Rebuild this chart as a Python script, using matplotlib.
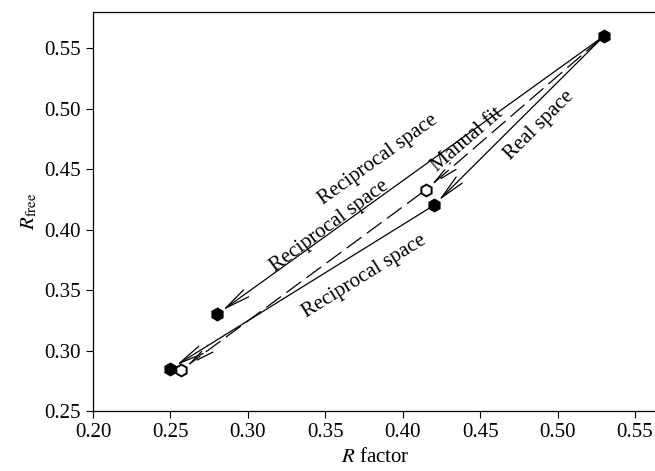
import numpy as np
import matplotlib
matplotlib.use("Agg")
import matplotlib.pyplot as plt

plt.rcParams['font.family'] = ['Liberation Serif', 'DejaVu Serif']
plt.rcParams['mathtext.fontset'] = 'stix'

# refinement paths: start, end, label, dashed
starts = [(0.53, 0.56), (0.53, 0.56), (0.53, 0.56), (0.415, 0.433), (0.42, 0.42)]
ends = [(0.28, 0.33), (0.415, 0.433), (0.42, 0.42), (0.257, 0.284), (0.25, 0.285)]
labels = ["Reciprocal space", "Manual fit", "Real space", "Reciprocal space", "Reciprocal space"]
dashed = [False, True, False, True, False]
# label centres (data coords)
label_pos = [(0.384, 0.458), (0.442, 0.474), (0.488, 0.486), (0.353, 0.403), (0.375, 0.361)]

filled_x = [0.53, 0.42, 0.28, 0.25]
filled_y = [0.56, 0.42, 0.33, 0.285]
open_x = [0.415, 0.257]
open_y = [0.433, 0.284]

fig = plt.figure(figsize=(6.55, 4.71), dpi=100)
ax = fig.add_axes([0.142, 0.127, 0.863, 0.848])
ax.set_xlim(0.20, 0.565)
ax.set_ylim(0.25, 0.58)

for (x0, y0), (x1, y1), ds in zip(starts, ends, dashed):
    ax.annotate("", xy=(x1, y1), xytext=(x0, y0),
                arrowprops=dict(arrowstyle="->,head_length=1.3,head_width=0.22",
                                mutation_scale=14, lw=0.9, color='black',
                                linestyle=(0, (14, 6)) if ds else '-',
                                shrinkA=4, shrinkB=5))

ax.plot(filled_x, filled_y, 'h', color='black', ms=9, zorder=5)
ax.plot(open_x, open_y, 'h', mfc='white', mec='black', mew=1.4, ms=8.5, zorder=5)

for (x0, y0), (x1, y1), lab, (tx, ty) in zip(starts, ends, labels, label_pos):
    ang = np.degrees(np.arctan2(y0 - y1, x0 - x1))
    ax.text(tx, ty, lab, rotation=ang, transform_rotates_text=True,
            rotation_mode='anchor', ha='center', va='center', fontsize=15)

xt = np.arange(0.20, 0.551, 0.05)
yt = np.arange(0.25, 0.551, 0.05)
ax.set_xticks(xt)
ax.set_yticks(yt)
ax.set_xticklabels([f"{v:.2f}" for v in xt])
ax.set_yticklabels([f"{v:.2f}" for v in yt])
ax.tick_params(direction='out', length=5, labelsize=15, top=False, right=False)
ax.set_xlabel("$R$ factor", fontsize=15, labelpad=4)
ax.set_ylabel("$R_{\\mathrm{free}}$", fontsize=15, labelpad=4)
for s in ax.spines.values():
    s.set_linewidth(0.9)

fig.savefig("out.png", dpi=100)
